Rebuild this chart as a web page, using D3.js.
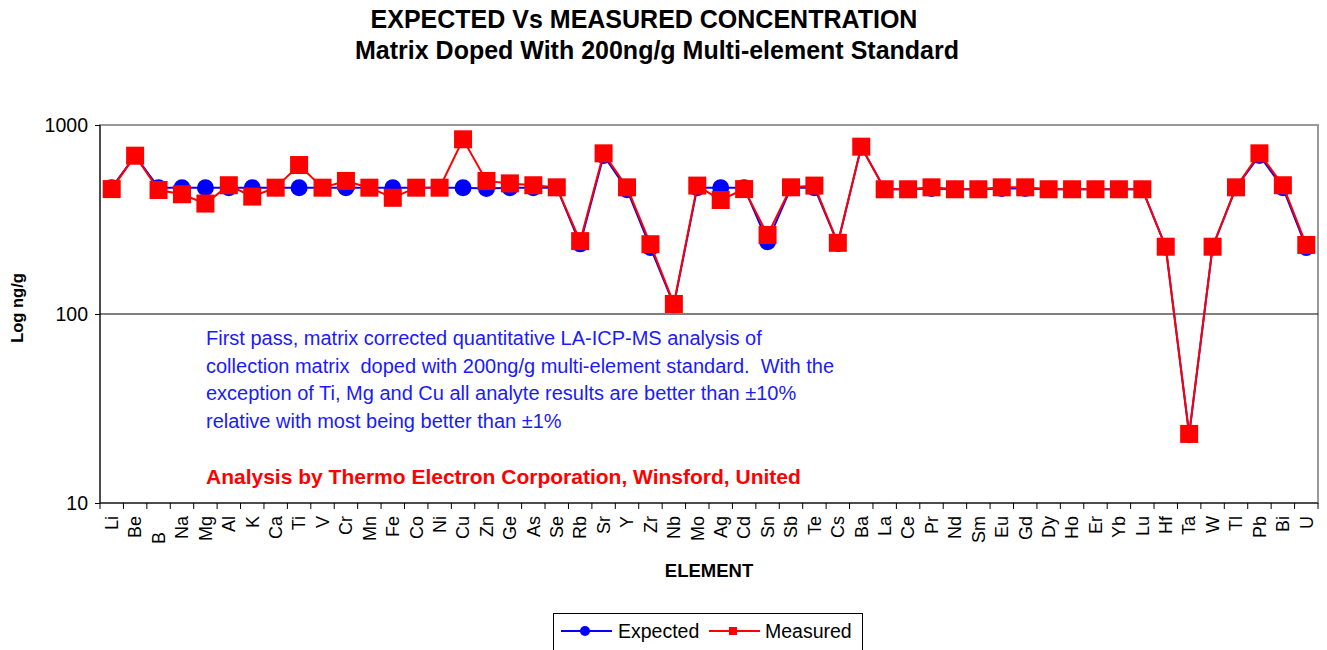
<!DOCTYPE html>
<html>
<head>
<meta charset="utf-8">
<script src="https://cdn.jsdelivr.net/npm/d3@7.9.0/dist/d3.min.js"></script>
<style>
  body { margin: 0; background: #fff; }
  svg { display: block; font-family: "Liberation Sans", Arial, sans-serif; }
</style>
</head>
<body>
<svg id="chart" width="1327" height="650"></svg>
<script>
// element names on the category axis
const elements = ["Li","Be","B","Na","Mg","Al","K","Ca","Ti","V","Cr","Mn","Fe","Co","Ni","Cu",
  "Zn","Ge","As","Se","Rb","Sr","Y","Zr","Nb","Mo","Ag","Cd","Sn","Sb","Te","Cs","Ba","La","Ce",
  "Pr","Nd","Sm","Eu","Gd","Dy","Ho","Er","Yb","Lu","Hf","Ta","W","Tl","Pb","Bi","U"];

// expected concentration, ng/g
const expected = [466,688,466,466,466,466,466,466,466,466,466,466,466,466,466,466,
  462,466,466,466,235,690,455,225,112,466,466,466,241,466,466,236,766,457,457,
  462,457,457,462,462,457,457,457,457,457,226,23,226,466,690,466,225];

// measured concentration, ng/g
const measured = [458,688,453,430,384,480,418,466,614,466,506,466,412,466,466,840,
  506,491,480,468,243,708,468,234,113,478,401,458,262,468,478,238,768,457,457,
  468,457,457,468,468,457,457,457,457,457,227,23.2,227,468,708,480,232];

const yTicks = [10, 100, 1000];

const svg = d3.select("#chart");
const pLeft = 100, pRight = 1318, pTop = 125, pBottom = 503;

const x = d3.scaleBand().domain(elements).range([pLeft, pRight]);
const y = d3.scaleLog().domain([10, 1000]).range([pBottom, pTop]);

// titles
svg.append("text")
  .attr("x", 644).attr("y", 28)
  .attr("text-anchor", "middle")
  .attr("font-size", 25).attr("font-weight", "bold")
  .text("EXPECTED Vs MEASURED CONCENTRATION");
svg.append("text")
  .attr("x", 657).attr("y", 59)
  .attr("text-anchor", "middle")
  .attr("font-size", 25).attr("font-weight", "bold")
  .text("Matrix Doped With 200ng/g Multi-element Standard");

// plot area border (grey top/right)
svg.append("rect")
  .attr("x", pLeft).attr("y", pTop)
  .attr("width", pRight - pLeft).attr("height", pBottom - pTop)
  .attr("fill", "none")
  .attr("stroke", "#999").attr("stroke-width", 2);

// gridline at 100
svg.append("line")
  .attr("x1", pLeft).attr("x2", pRight)
  .attr("y1", y(100)).attr("y2", y(100))
  .attr("stroke", "#000").attr("stroke-width", 1);

// y axis
const yAxis = svg.append("g")
  .attr("transform", `translate(${pLeft},0)`)
  .call(d3.axisLeft(y).tickValues(yTicks).tickFormat(d3.format("d")).tickSize(5).tickPadding(7));
yAxis.select(".domain").attr("stroke", "#000").attr("d", `M0,${pTop}V${pBottom}`);
yAxis.selectAll("text").attr("font-size", 19.5).attr("font-family", "Liberation Sans, Arial, sans-serif").attr("fill", "#000");

// x axis
const xAxis = svg.append("g")
  .attr("transform", `translate(0,${pBottom})`)
  .call(d3.axisBottom(x).tickSize(0).tickPadding(0));
xAxis.select(".domain").attr("stroke", "#000").attr("d", `M${pLeft},0H${pRight}`);
xAxis.selectAll(".tick text")
  .attr("font-size", 18)
  .attr("font-family", "Liberation Sans, Arial, sans-serif")
  .attr("fill", "#000")
  .attr("text-anchor", "end")
  .attr("transform", "rotate(-90)")
  .attr("x", d => d === "B" ? -29 : -13)   // "B" sits lower in the original
  .attr("y", 0).attr("dy", "0.35em");
// tick marks between categories
xAxis.selectAll(".cat-tick")
  .data(elements.concat([null]))
  .join("line")
  .attr("class", "cat-tick")
  .attr("x1", (d, i) => pLeft + i * x.step())
  .attr("x2", (d, i) => pLeft + i * x.step())
  .attr("y1", 0).attr("y2", 6)
  .attr("stroke", "#000");

// axis titles
svg.append("text")
  .attr("transform", `translate(23,${y(100) - 6}) rotate(-90)`)
  .attr("text-anchor", "middle")
  .attr("font-size", 16.5).attr("font-weight", "bold")
  .text("Log ng/g");
svg.append("text")
  .attr("x", (pLeft + pRight) / 2).attr("y", 577)
  .attr("text-anchor", "middle")
  .attr("font-size", 18.5).attr("font-weight", "bold")
  .text("ELEMENT");

// annotation
const note = [
  "First pass, matrix corrected quantitative LA-ICP-MS analysis of",
  "collection matrix  doped with 200ng/g multi-element standard.  With the",
  "exception of Ti, Mg and Cu all analyte results are better than ±10%",
  "relative with most being better than ±1%"
];
svg.append("g").selectAll("text")
  .data(note)
  .join("text")
  .attr("x", 206).attr("y", (d, i) => 345 + i * 27.7)
  .attr("font-size", 20).attr("fill", "#1a1aff")
  .style("white-space", "pre")
  .text(d => d);
svg.append("text")
  .attr("x", 206).attr("y", 484)
  .attr("font-size", 21).attr("font-weight", "bold").attr("fill", "#ff0000")
  .text("Analysis by Thermo Electron Corporation, Winsford, United");

// series
const cx = d => x(d) + x.bandwidth() / 2;
const line = d3.line().x(d => cx(d.el)).y(d => y(d.v));

const expData = elements.map((el, i) => ({ el, v: expected[i] }));
const measData = elements.map((el, i) => ({ el, v: measured[i] }));

svg.append("path")
  .datum(expData)
  .attr("d", line)
  .attr("fill", "none").attr("stroke", "#0000ff").attr("stroke-width", 2);
svg.append("g").selectAll("circle")
  .data(expData)
  .join("circle")
  .attr("cx", d => cx(d.el)).attr("cy", d => y(d.v))
  .attr("r", 8.5).attr("fill", "#0000ff");

svg.append("path")
  .datum(measData)
  .attr("d", line)
  .attr("fill", "none").attr("stroke", "#ff0000").attr("stroke-width", 2);
const sq = 18;
svg.append("g").selectAll("rect")
  .data(measData)
  .join("rect")
  .attr("x", d => cx(d.el) - sq / 2).attr("y", d => y(d.v) - sq / 2)
  .attr("width", sq).attr("height", sq)
  .attr("fill", "#ff0000");

// legend
const lg = svg.append("g");
lg.append("rect")
  .attr("x", 553.5).attr("y", 613.5)
  .attr("width", 309).attr("height", 50)
  .attr("fill", "#fff").attr("stroke", "#000");
lg.append("line").attr("x1", 561).attr("x2", 612).attr("y1", 631).attr("y2", 631)
  .attr("stroke", "#0000ff").attr("stroke-width", 2);
lg.append("circle").attr("cx", 585).attr("cy", 631).attr("r", 5).attr("fill", "#0000ff");
lg.append("text").attr("x", 618).attr("y", 638).attr("font-size", 19.5).text("Expected");
lg.append("line").attr("x1", 709).attr("x2", 760).attr("y1", 631).attr("y2", 631)
  .attr("stroke", "#ff0000").attr("stroke-width", 2);
lg.append("rect").attr("x", 729).attr("y", 627).attr("width", 8).attr("height", 8).attr("fill", "#ff0000");
lg.append("text").attr("x", 765).attr("y", 638).attr("font-size", 19.5).text("Measured");
</script>
</body>
</html>
